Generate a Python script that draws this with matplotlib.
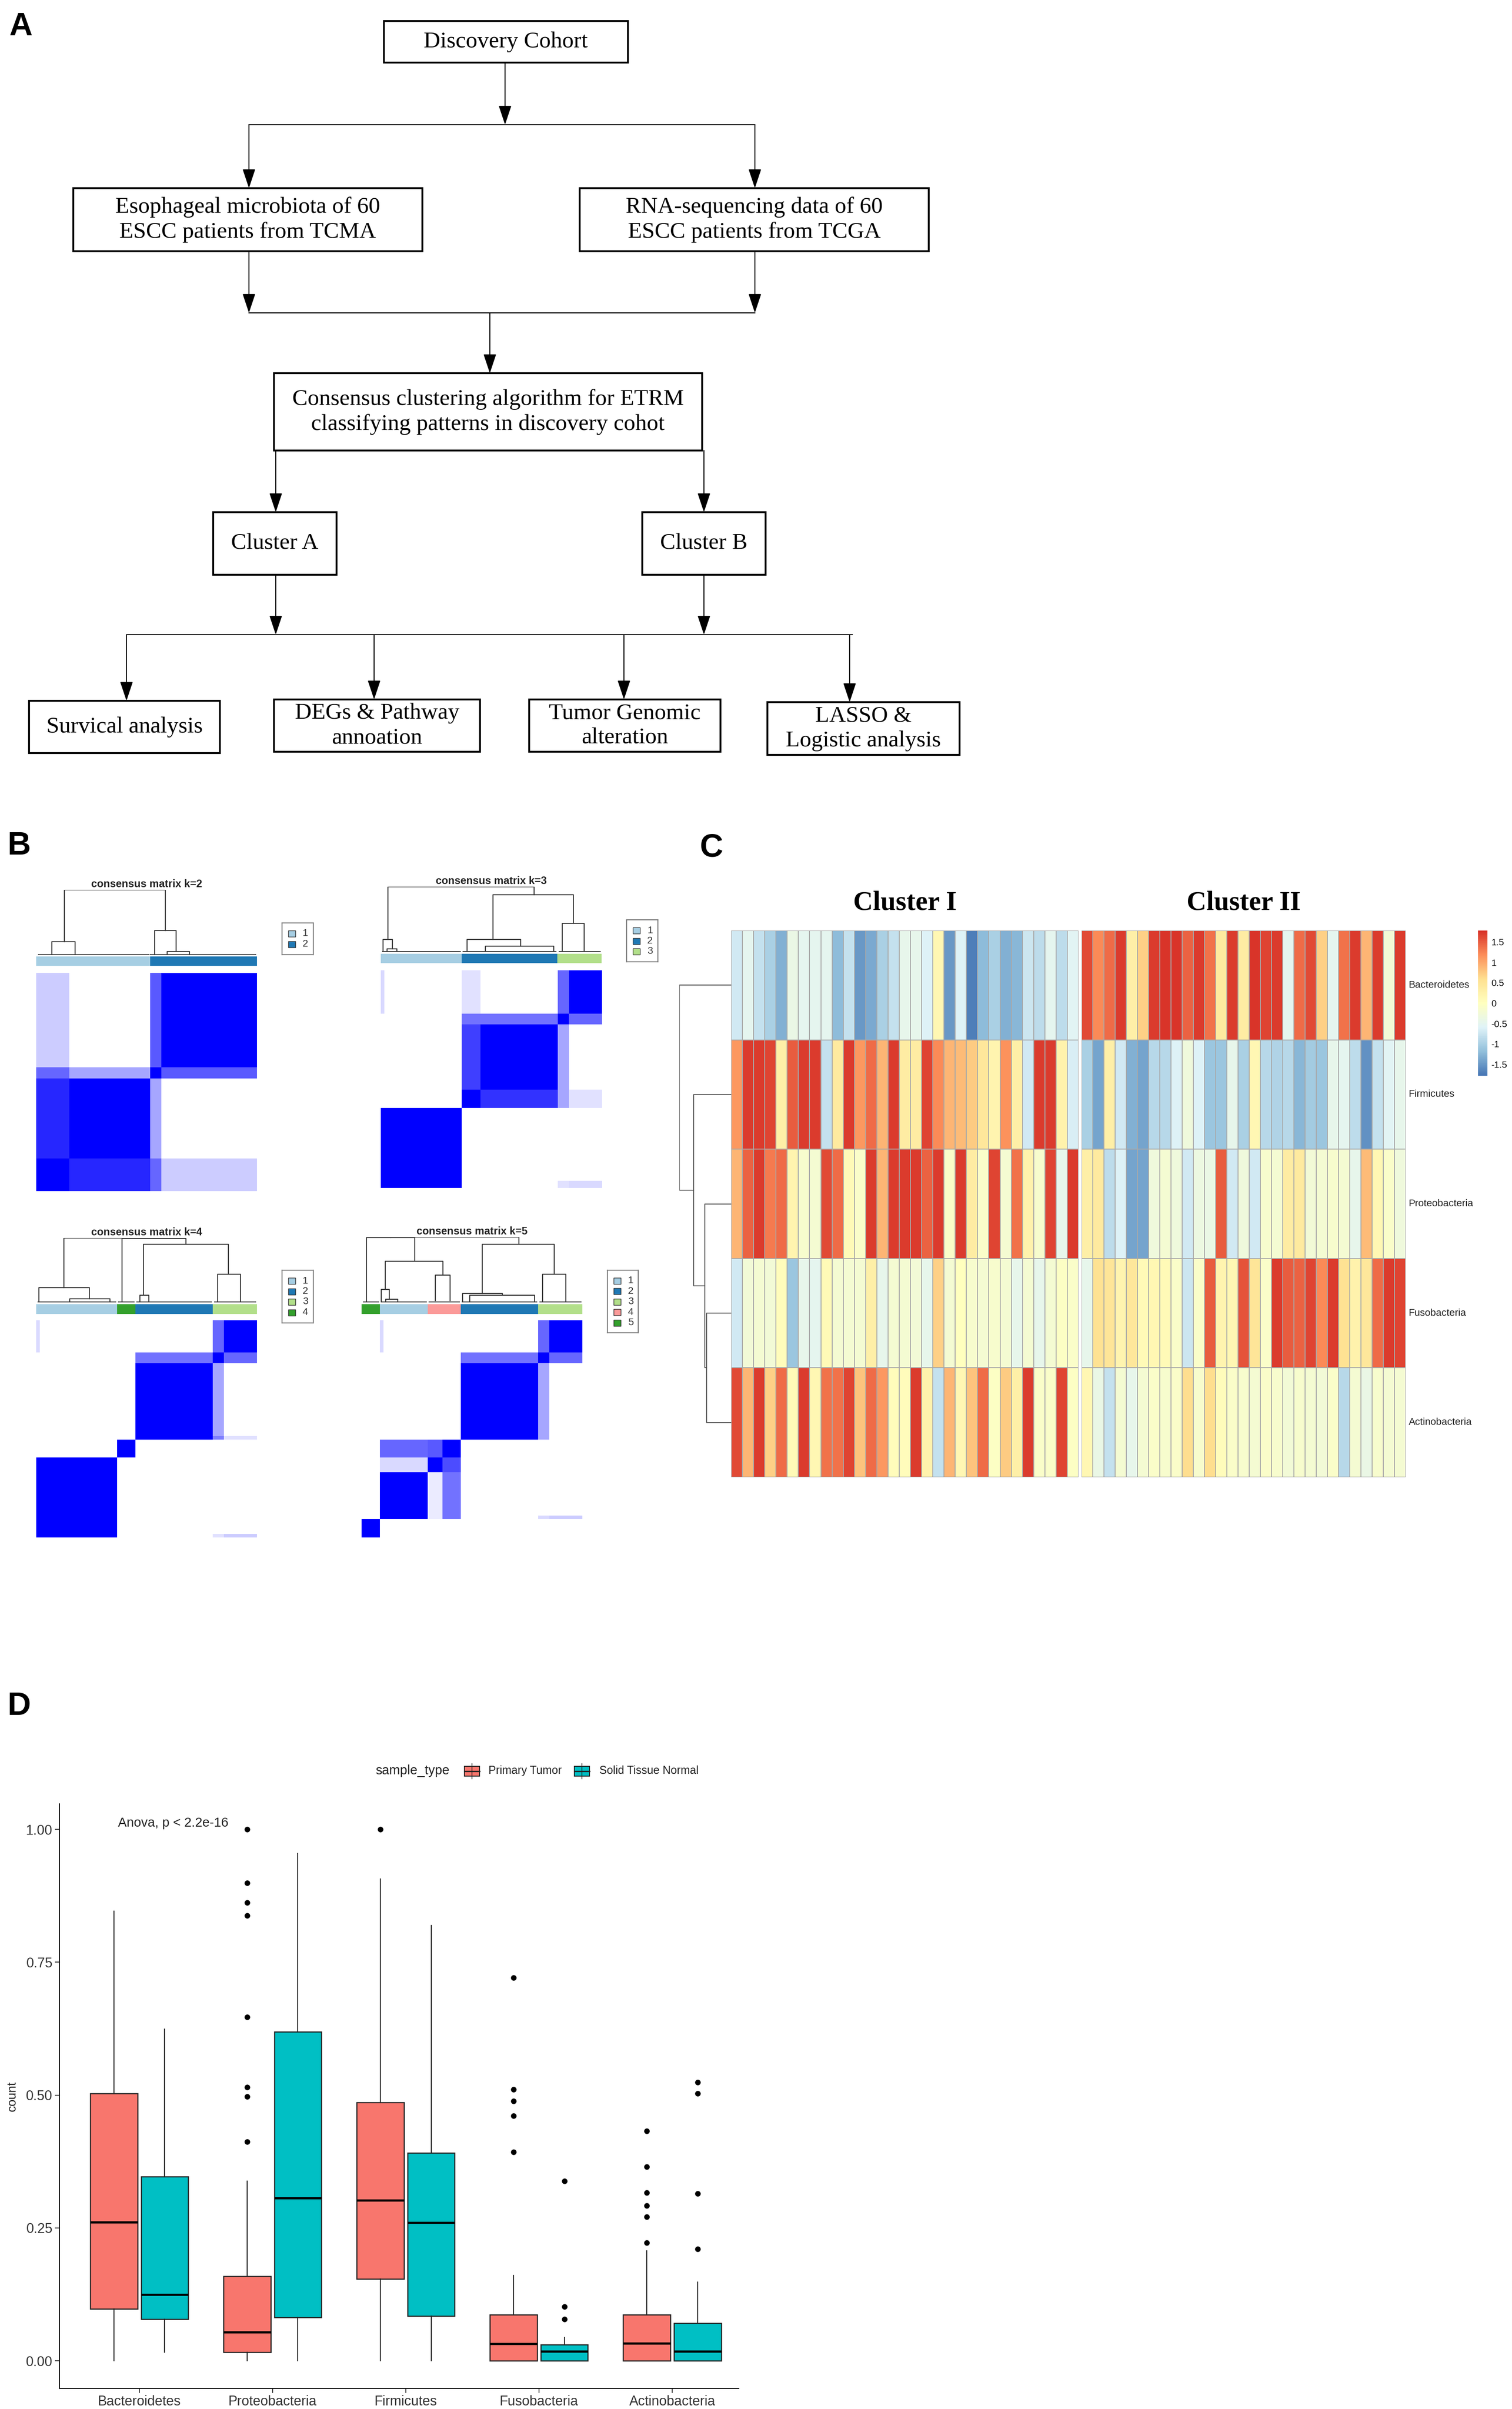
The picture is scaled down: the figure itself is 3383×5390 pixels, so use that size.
import numpy as np
import matplotlib
matplotlib.use("Agg")
import matplotlib.pyplot as plt
from matplotlib.patches import Rectangle
from matplotlib.colors import LinearSegmentedColormap, Normalize
from matplotlib.cm import ScalarMappable

# --- canvas in pixel units of the original picture ---
W, H = 3383, 5390
fig = plt.figure(figsize=(W / 100, H / 100), dpi=100)


def add_ax(x0, y0, x1, y1):
    return fig.add_axes([x0 / W, 1 - y1 / H, (x1 - x0) / W, (y1 - y0) / H])


SERIF = "Liberation Serif"
SANS = "Liberation Sans"

# ================= A: flow chart =================
flow_boxes = [
    ("Discovery Cohort", 859, 47, 1405, 140),
    ("Esophageal microbiota of 60\nESCC patients from TCMA", 164, 421, 945, 562),
    ("RNA-sequencing data of 60\nESCC patients from TCGA", 1297, 421, 2078, 562),
    ("Consensus clustering algorithm for ETRM\nclassifying patterns in discovery cohot", 613, 835, 1571, 1008),
    ("Cluster A", 477, 1146, 753, 1286),
    ("Cluster B", 1437, 1146, 1713, 1286),
    ("Survical analysis", 65, 1568, 492, 1685),
    ("DEGs & Pathway\nannoation", 613, 1565, 1074, 1682),
    ("Tumor Genomic\nalteration", 1184, 1565, 1612, 1682),
    ("LASSO &\nLogistic analysis", 1717, 1571, 2147, 1689),
]
flow_lines = [(557, 279, 1689, 279), (557, 700, 1689, 700), (283, 1420, 1907, 1420)]
flow_arrows = [(1130, 140, 279), (557, 279, 421), (1689, 279, 421), (557, 562, 700),
               (1689, 562, 700), (1096, 700, 835), (617, 1008, 1146), (1575, 1008, 1146),
               (617, 1286, 1420), (1575, 1286, 1420), (283, 1420, 1568), (837, 1420, 1565),
               (1396, 1420, 1565), (1901, 1420, 1571)]

ax_a = add_ax(0, 0, W, 1750)
ax_a.set_xlim(0, W)
ax_a.set_ylim(1750, 0)
ax_a.axis("off")
for label, x0, y0, x1, y1 in flow_boxes:
    ax_a.add_patch(Rectangle((x0, y0), x1 - x0, y1 - y0, fill=False, lw=3, ec="black"))
    ax_a.text((x0 + x1) / 2, (y0 + y1) / 2, label, ha="center", va="center",
              family=SERIF, fontsize=37, linespacing=1.25)
for x0, y0, x1, y1 in flow_lines:
    ax_a.plot([x0, x1], [y0, y1], color="black", lw=1.6)
for x, y0, y1 in flow_arrows:
    ax_a.annotate("", xy=(x, y1), xytext=(x, y0),
                  arrowprops=dict(arrowstyle="-|>,head_length=0.9,head_width=0.3",
                                  mutation_scale=30, lw=1.6, color="black",
                                  shrinkA=0, shrinkB=0))

# ================= B: consensus matrices =================
c_lb, c_db, c_lg, c_pk, c_dg = "#A6CEE3", "#1F78B4", "#B2DF8A", "#FB9A99", "#33A02C"

k2_row_sizes = [9, 22, 3, 26]
k2_col_sizes = [9, 22, 3, 26]
k2_values = [[1, 0.85, 0.6, 0.2],
             [0.85, 1, 0.35, 0],
             [0.6, 0.35, 1, 0.65],
             [0.2, 0, 0.65, 1]]
k2_bar_sizes = [31, 29]
k2_bar_colors = [c_lb, c_db]
k2_legend = [c_lb, c_db]
k2_links = [(7.6, 35.1, 1.0, 0.205, 0.38), (4.3, 10.6, 0.205, 0.016, 0.016),
            (32.2, 38.0, 0.38, 0.0, 0.054), (35.6, 41.6, 0.054, 0.0, 0.0)]
k2_base = [(0.6, 30.5), (31.0, 59.5)]

k3_row_sizes = [2, 20, 5, 18, 3, 12]
k3_col_sizes = [1, 21, 5, 21, 3, 9]
k3_values = [[1, 1, 0, 0, 0.12, 0.15],
             [1, 1, 0, 0, 0, 0],
             [0, 0, 1, 0.8, 0.35, 0.12],
             [0, 0, 0.75, 1, 0.35, 0],
             [0, 0, 0.55, 0.55, 1, 0.6],
             [0.15, 0, 0.12, 0, 0.6, 1]]
k3_bar_sizes = [22, 26, 12]
k3_bar_colors = [c_lb, c_db, c_lg]
k3_legend = [c_lb, c_db, c_lg]
k3_links = [(1.9, 41.6, 1.0, 0.19, 0.88), (0.65, 3.1, 0.19, 0.0, 0.047), (1.7, 4.4, 0.047, 0, 0),
            (30.5, 52.3, 0.88, 0.19, 0.44), (23.4, 38.0, 0.19, 0.016, 0.088),
            (28.4, 47.0, 0.088, 0, 0), (49.3, 55.3, 0.44, 0, 0)]
k3_base = [(0.5, 21.5), (22.3, 47.5), (48.5, 59.5)]

k4_row_sizes = [1, 21, 5, 1, 20, 3, 9]
k4_col_sizes = [1, 21, 5, 21, 3, 9]
k4_values = [[1, 1, 0, 0, 0.12, 0.2],
             [1, 1, 0, 0, 0, 0],
             [0, 0, 1, 0, 0, 0],
             [0, 0, 0, 1, 0.5, 0.12],
             [0, 0, 0, 1, 0.35, 0],
             [0, 0, 0, 0.55, 1, 0.6],
             [0.15, 0, 0, 0, 0.6, 1]]
k4_bar_sizes = [22, 5, 21, 12]
k4_bar_colors = [c_lb, c_dg, c_db, c_lg]
k4_legend = [c_lb, c_db, c_lg, c_dg]
k4_links = [(7.5, 32.0, 1.0, 0.23, 0.99), (23.3, 40.7, 0.99, 0.0, 0.90),
            (29.2, 52.2, 0.90, 0.11, 0.44), (28.2, 30.6, 0.11, 0, 0), (49.3, 55.5, 0.44, 0, 0),
            (0.7, 14.4, 0.23, 0.0, 0.057), (9.1, 20.1, 0.057, 0, 0)]
k4_base = [(0.5, 21.5), (22.3, 26.5), (27.3, 47.5), (48.5, 59.5)]

k5_row_sizes = [5, 1, 12, 4, 5, 21, 3, 9]
k5_col_sizes = [5, 1, 12, 4, 5, 21, 3, 9]
k5_values = [[1, 0, 0, 0, 0, 0, 0, 0],
             [0, 1, 1, 0.08, 0.55, 0, 0.15, 0.2],
             [0, 1, 1, 0.08, 0.55, 0, 0, 0],
             [0, 0.15, 0.15, 1, 0.7, 0, 0, 0],
             [0, 0.6, 0.6, 0.65, 1, 0, 0, 0],
             [0, 0, 0, 0, 0, 1, 0.35, 0],
             [0, 0, 0, 0, 0, 0.55, 1, 0.6],
             [0, 0.15, 0, 0, 0, 0, 0.6, 1]]
k5_bar_sizes = [5, 13, 9, 21, 12]
k5_bar_colors = [c_dg, c_lb, c_pk, c_db, c_lg]
k5_legend = [c_lb, c_db, c_lg, c_pk, c_dg]
k5_links = [(1.3, 14.4, 0.99, 0, 0.63), (7.85, 42.7, 1.0, 0.99, 0.89), (6.4, 22.1, 0.63, 0.2, 0.42),
            (5.4, 7.5, 0.2, 0, 0.05), (6.6, 9.8, 0.05, 0, 0), (20.0, 24.1, 0.42, 0.03, 0.03),
            (32.8, 52.3, 0.89, 0.14, 0.43), (27.5, 38.3, 0.14, 0, 0.11),
            (29.4, 47.0, 0.11, 0, 0), (49.2, 55.5, 0.43, 0, 0)]
k5_base = [(0.5, 4.5), (5.3, 17.5), (18.3, 26.5), (27.3, 47.5), (48.5, 59.5)]

white_blue = LinearSegmentedColormap.from_list("wb", ["white", "blue"])

b_sets = [
    (2, k2_row_sizes, k2_col_sizes, k2_values, k2_bar_sizes, k2_bar_colors, k2_legend, k2_links, k2_base,
     81, 575, 1991, 2137, 2140, 2161, 2177, 2665, (631, 2065, 701, 2136)),
    (3, k3_row_sizes, k3_col_sizes, k3_values, k3_bar_sizes, k3_bar_colors, k3_legend, k3_links, k3_base,
     852, 1346, 1984, 2130, 2134, 2155, 2171, 2658, (1402, 2058, 1472, 2152)),
    (4, k4_row_sizes, k4_col_sizes, k4_values, k4_bar_sizes, k4_bar_colors, k4_legend, k4_links, k4_base,
     81, 575, 2770, 2914, 2918, 2940, 2954, 3440, (631, 2842, 701, 2960)),
    (5, k5_row_sizes, k5_col_sizes, k5_values, k5_bar_sizes, k5_bar_colors, k5_legend, k5_links, k5_base,
     809, 1303, 2768, 2914, 2918, 2940, 2954, 3440, (1359, 2842, 1428, 2982)),
]

for (k, rs, cs, vals, bsz, bcol, leg, links, base,
     x0, x1, dy0, dy1, cy0, cy1, my0, my1, lbox) in b_sets:
    # matrix
    mat = np.repeat(np.repeat(np.array(vals, float), rs, axis=0), cs, axis=1)
    ax = add_ax(x0, my0, x1, my1)
    ax.imshow(mat, cmap=white_blue, vmin=0, vmax=1, origin="lower", aspect="auto",
              interpolation="nearest")
    ax.axis("off")
    # cluster colour bar
    ax = add_ax(x0, cy0, x1, cy1)
    left = 0
    for n, c in zip(bsz, bcol):
        ax.add_patch(Rectangle((left, 0), n, 1, color=c, lw=0))
        left += n
    ax.set_xlim(0, 60)
    ax.set_ylim(0, 1)
    ax.axis("off")
    # dendrogram
    ax = add_ax(x0, dy0, x1, dy1)
    for xl, xr, top, hl, hr in links:
        ax.plot([xl, xl, xr, xr], [hl, top, top, hr], color="#333333", lw=1.6)
    for a, b in base:
        ax.plot([a, b], [0.008, 0.008], color="#333333", lw=2.2)
    ax.set_xlim(0, 60)
    ax.set_ylim(0, 1.0)
    ax.axis("off")
    ax.text(0.5, 1.005, "consensus matrix k=%d" % k, transform=ax.transAxes, ha="center",
            va="bottom", family=SANS, fontweight="bold", fontsize=17, color="#222222")
    # legend
    lx0, ly0, lx1, ly1 = lbox
    ax = add_ax(lx0, ly0, lx1, ly1)
    ax.set_xlim(lx0, lx1)
    ax.set_ylim(ly1, ly0)
    ax.set_xticks([])
    ax.set_yticks([])
    for s in ax.spines.values():
        s.set_color("#777777")
        s.set_linewidth(1.6)
    for i, c in enumerate(leg):
        yy = ly0 + 24 + 23.5 * i
        ax.add_patch(Rectangle((lx0 + 14, yy - 7), 16, 14, fc=c, ec="#333333", lw=1.0))
        ax.text(lx0 + 52, yy, str(i + 1), ha="center", va="center", family=SANS,
                fontsize=16, color="#333333")

# ================= C: heatmap =================
phyla_rows = ["Bacteroidetes", "Firmicutes", "Proteobacteria", "Fusobacteria", "Actinobacteria"]

bact_I = [-0.7, -0.5, -0.8, -1.0, -1.3, -0.4, -0.5, -0.5, -0.5, -1.2, -0.8, -1.5, -1.35, -1.0, -0.8, -0.45,
          -0.45, -0.6, 0.15, -1.5, -0.6, -1.7, -1.2, -1.0, -1.3, -1.25, -0.75, -0.85, -0.5, -0.85, -0.55]
firm_I = [1.1, 1.7, 1.7, 1.65, 0.3, 1.5, 1.7, 1.7, -0.8, 0.4, 1.7, 1.1, 1.4, 0.9, 1.7, 0.35,
          0.35, 1.65, 1.2, 0.9, 0.85, 0.75, 0.45, 0.2, 1.15, 0.3, -0.7, 1.7, 1.7, 0.25, -0.65]
prot_I = [0.9, 1.45, 1.7, 1.3, 1.4, 0.2, -0.15, -0.2, 1.6, 1.4, 0.1, -0.1, 1.7, 0.9, 1.7, 1.7,
          1.7, 1.45, 1.7, -0.1, 1.7, 0.35, -0.1, 1.65, -0.2, 1.35, 0.25, -0.15, 1.65, -0.45, 1.7]
fuso_I = [-0.7, -0.25, -0.2, -0.25, 0.05, -1.1, -0.45, -0.5, 0.1, -0.2, -0.2, -0.2, 0.3, -0.45, -0.2, -0.2,
          -0.25, -0.45, 0.7, -0.2, 0.0, -0.15, -0.2, -0.15, -0.2, -0.45, -0.2, -0.45, -0.2, -0.05, -0.1]
acti_I = [1.6, 0.9, 1.7, 0.7, 1.4, 0.1, 1.7, 0.15, 1.35, 1.35, 1.65, 0.8, 1.4, 1.1, 0.05, 0.05,
          1.7, 0.25, -0.8, 0.9, 0.15, 0.8, 1.4, -0.05, 0.75, 0.3, 1.7, -0.1, -0.1, 1.65, -0.05]

bact_II = [1.6, 1.2, 1.4, 1.7, 0.3, 0.7, 1.7, 1.75, 1.75, 1.45, 1.7, 1.35, 0.4, 1.7,
           0.35, 1.75, 1.65, 1.7, -0.5, 1.4, 1.6, 0.7, -0.5, 1.35, 1.7, 0.9, 1.7, -0.25, 1.7]
firm_II = [-1.0, -1.4, 0.3, -0.7, -1.3, -1.4, -0.9, -0.9, -0.6, -0.3, -0.6, -1.1, -1.1, -0.45,
           -1.0, 0.15, -0.9, -0.95, -0.9, -1.25, -1.05, -1.1, -0.45, -0.5, -0.85, -1.55, -0.8, -0.55, -0.45]
prot_II = [0.3, 0.4, -0.85, -0.6, -1.4, -1.4, -0.3, -0.2, -0.3, -0.7, -0.35, -0.4, 1.5, -0.7,
           -0.3, -0.7, -0.15, -0.2, 0.35, 0.4, -0.25, -0.2, -0.15, -0.2, -0.45, 0.85, 0.15, -0.1, -0.3]
fuso_II = [-0.45, 0.55, 0.5, 0.2, 0.45, 0.1, 0.15, 0.1, -0.1, -0.75, -0.1, 1.5, 0.2, 0.15,
           1.55, 0.5, -0.1, 1.7, 1.5, 1.45, 1.65, 1.2, 1.7, 0.55, 0.25, 0.45, 1.4, 1.7, 1.65]
acti_II = [0.15, -0.4, -0.8, -0.2, -0.45, -0.2, -0.1, -0.15, -0.1, 0.6, -0.15, 0.6, 0.05, -0.1,
           -0.15, -0.2, -0.1, -0.15, -0.25, -0.15, -0.2, -0.25, -0.1, -0.9, -0.2, -0.4, -0.15, -0.2, -0.2]

row_links = [(3.5, 4.5, 0.47, 0, 0), (2.5, 4.0, 0.51, 0, 0.47),
             (1.5, 3.25, 0.72, 0, 0.51), (0.5, 2.375, 1.0, 0, 0.72)]

heat_cmap = LinearSegmentedColormap.from_list(
    "rdylbu", ["#4575B4", "#91BFDB", "#E0F3F8", "#FFFFBF", "#FEE090", "#FC8D59", "#D73027"])
heat_norm = Normalize(-1.78, 1.78)

heat_I = np.array([bact_I, firm_I, prot_I, fuso_I, acti_I])
heat_II = np.array([bact_II, firm_II, prot_II, fuso_II, acti_II])
for data, (hx0, hx1), title in [(heat_I, (1636, 2413), "Cluster I"), (heat_II, (2420, 3145), "Cluster II")]:
    ax = add_ax(hx0, 2082, hx1, 3305)
    ax.pcolormesh(data, cmap=heat_cmap, norm=heat_norm, edgecolors="#A8A8A8", linewidth=1.3)
    ax.set_xlim(0, data.shape[1])
    ax.set_ylim(5, 0)
    ax.axis("off")
    fig.text(((hx0 + hx1) / 2) / W, 1 - 2021 / H, title, ha="center", va="center",
             family=SERIF, fontweight="bold", fontsize=44)

ax = add_ax(3150, 2082, 3300, 3305)
ax.set_xlim(0, 1)
ax.set_ylim(5, 0)
ax.axis("off")
for i, name in enumerate(phyla_rows):
    ax.text(0.01, i + 0.5, name, ha="left", va="center", family=SANS, fontsize=16, color="#222222")

ax = add_ax(1520, 2082, 1636, 3305)
for ya, yb, d, da, db in row_links:
    ax.plot([da, d, d, db], [ya, ya, yb, yb], color="#555555", lw=1.5)
ax.set_xlim(1.0, 0)
ax.set_ylim(5, 0)
ax.axis("off")

cax = add_ax(3307, 2082, 3328, 2407)
cb = fig.colorbar(ScalarMappable(norm=heat_norm, cmap=heat_cmap), cax=cax)
cb.outline.set_visible(False)
cb.set_ticks([1.5, 1, 0.5, 0, -0.5, -1, -1.5])
cb.set_ticklabels(["1.5", "1", "0.5", "0", "-0.5", "-1", "-1.5"])
cax.tick_params(length=0, labelsize=15, pad=6)
for t in cax.get_yticklabels():
    t.set_family(SANS)

# ================= D: box plot =================
phyla = ["Bacteroidetes", "Proteobacteria", "Firmicutes", "Fusobacteria", "Actinobacteria"]
tumor_q1 = [0.098, 0.016, 0.154, 0.0, 0.0]
tumor_med = [0.261, 0.054, 0.302, 0.032, 0.033]
tumor_q3 = [0.503, 0.159, 0.486, 0.087, 0.087]
tumor_lo = [0.0, 0.0, 0.0, 0.0, 0.0]
tumor_hi = [0.846, 0.338, 0.907, 0.161, 0.207]
tumor_out = [[], [1.0, 0.899, 0.862, 0.838, 0.647, 0.515, 0.497, 0.412], [1.0],
             [0.721, 0.511, 0.489, 0.461, 0.393], [0.432, 0.365, 0.316, 0.292, 0.271, 0.222]]
normal_q1 = [0.078, 0.082, 0.084, 0.0, 0.0]
normal_med = [0.125, 0.306, 0.260, 0.018, 0.018]
normal_q3 = [0.347, 0.619, 0.391, 0.030, 0.071]
normal_lo = [0.016, 0.0, 0.0, 0.0, 0.0]
normal_hi = [0.624, 0.955, 0.819, 0.044, 0.148]
normal_out = [[], [], [], [0.338, 0.102, 0.078], [0.524, 0.503, 0.315, 0.210]]

red, teal = "#F8766D", "#00BFC4"

ax_d = add_ax(133, 4036, 1653, 5344)
for q1, med, q3, lo, hi, out, off, col in [
        (tumor_q1, tumor_med, tumor_q3, tumor_lo, tumor_hi, tumor_out, -0.19, red),
        (normal_q1, normal_med, normal_q3, normal_lo, normal_hi, normal_out, 0.19, teal)]:
    stats = [dict(q1=q1[i], med=med[i], q3=q3[i], whislo=lo[i], whishi=hi[i], fliers=out[i])
             for i in range(len(phyla))]
    ax_d.bxp(stats, positions=np.arange(1, 6) + off, widths=0.355, patch_artist=True,
             showcaps=False,
             boxprops=dict(facecolor=col, edgecolor="#222222", linewidth=1.8),
             medianprops=dict(color="black", linewidth=3.5),
             whiskerprops=dict(color="#222222", linewidth=1.6),
             flierprops=dict(marker="o", markerfacecolor="black", markeredgecolor="black",
                             markersize=8))
ax_d.set_xlim(0.4, 5.5)
ax_d.set_ylim(-0.052, 1.048)
ax_d.set_xticks(np.arange(1, 6))
ax_d.set_xticklabels(phyla)
ax_d.set_yticks([0, 0.25, 0.5, 0.75, 1.0])
ax_d.set_yticklabels(["0.00", "0.25", "0.50", "0.75", "1.00"])
ax_d.spines["top"].set_visible(False)
ax_d.spines["right"].set_visible(False)
for s in ("left", "bottom"):
    ax_d.spines[s].set_linewidth(1.6)
ax_d.tick_params(labelsize=22, length=7, width=1.4, colors="#333333", pad=4)
for t in ax_d.get_xticklabels() + ax_d.get_yticklabels():
    t.set_family(SANS)
ax_d.set_ylabel("count", family=SANS, fontsize=20, color="#222222", labelpad=12)
ax_d.text(0.84, 1.012, "Anova, p < 2.2e-16", ha="left", va="center", family=SANS, fontsize=21,
          color="#222222")

# legend of D
ax = add_ax(820, 3930, 1620, 3995)
ax.set_xlim(820, 1620)
ax.set_ylim(3995, 3930)
ax.axis("off")
ax.text(840, 3962, "sample_type", ha="left", va="center", family=SANS, fontsize=21, color="#222222")
for kx, tx, col, lab in [(1039, 1093, red, "Primary Tumor"), (1285, 1341, teal, "Solid Tissue Normal")]:
    ax.plot([kx + 17, kx + 17], [3946, 3980], color="#222222", lw=1.2)
    ax.add_patch(Rectangle((kx, 3952), 34, 22, fc=col, ec="#222222", lw=1.4))
    ax.plot([kx, kx + 34], [3963, 3963], color="#222222", lw=2.2)
    ax.text(tx, 3962, lab, ha="left", va="center", family=SANS, fontsize=18, color="#222222")

# ================= panel letters =================
for letter, x, y in [("A", 20, 60), ("B", 16, 1893), ("C", 1566, 1897), ("D", 16, 3818)]:
    fig.text(x / W, 1 - y / H, letter, ha="left", va="center", family=SANS,
             fontweight="bold", fontsize=52)

fig.savefig("out.png", dpi=100, facecolor="white")
